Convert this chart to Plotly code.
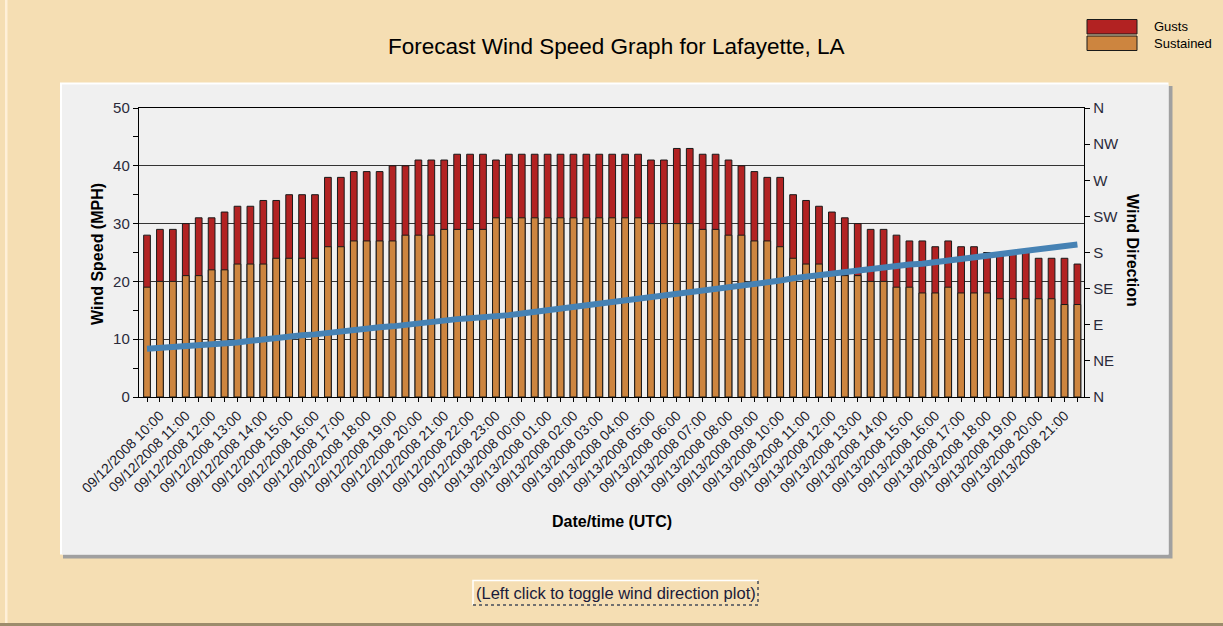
import plotly.graph_objects as go

# ---------------- data ----------------
time_labels = [
    "09/12/2008 10:00", "09/12/2008 11:00", "09/12/2008 12:00", "09/12/2008 13:00",
    "09/12/2008 14:00", "09/12/2008 15:00", "09/12/2008 16:00", "09/12/2008 17:00",
    "09/12/2008 18:00", "09/12/2008 19:00", "09/12/2008 20:00", "09/12/2008 21:00",
    "09/12/2008 22:00", "09/12/2008 23:00", "09/13/2008 00:00", "09/13/2008 01:00",
    "09/13/2008 02:00", "09/13/2008 03:00", "09/13/2008 04:00", "09/13/2008 05:00",
    "09/13/2008 06:00", "09/13/2008 07:00", "09/13/2008 08:00", "09/13/2008 09:00",
    "09/13/2008 10:00", "09/13/2008 11:00", "09/13/2008 12:00", "09/13/2008 13:00",
    "09/13/2008 14:00", "09/13/2008 15:00", "09/13/2008 16:00", "09/13/2008 17:00",
    "09/13/2008 18:00", "09/13/2008 19:00", "09/13/2008 20:00", "09/13/2008 21:00",
]

gusts = [
    28, 29, 29, 30, 31, 31, 32, 33, 33, 34,
    34, 35, 35, 35, 38, 38, 39, 39, 39, 40,
    40, 41, 41, 41, 42, 42, 42, 41, 42, 42,
    42, 42, 42, 42, 42, 42, 42, 42, 42, 41,
    41, 43, 43, 42, 42, 41, 40, 39, 38, 38,
    35, 34, 33, 32, 31, 30, 29, 29, 28, 27,
    27, 26, 27, 26, 26, 25, 25, 25, 25, 24,
    24, 24, 23,
]

sustained = [
    19, 20, 20, 21, 21, 22, 22, 23, 23, 23,
    24, 24, 24, 24, 26, 26, 27, 27, 27, 27,
    28, 28, 28, 29, 29, 29, 29, 31, 31, 31,
    31, 31, 31, 31, 31, 31, 31, 31, 31, 30,
    30, 30, 30, 29, 29, 28, 28, 27, 27, 26,
    24, 23, 23, 21, 21, 21, 20, 20, 19, 19,
    18, 18, 19, 18, 18, 18, 17, 17, 17, 17,
    17, 16, 16,
]

direction_deg = [
    60, 61, 62, 63, 64, 65, 67, 68, 70, 72,
    73, 75, 77, 78, 80, 82, 84, 85, 87, 88,
    90, 92, 94, 95, 97, 98, 99, 101, 102, 104,
    106, 108, 110, 112, 114, 116, 118, 120, 122, 124,
    126, 128, 130, 132, 134, 136, 138, 140, 143, 145,
    148, 150, 152, 154, 156, 158, 160, 161, 163, 165,
    166, 168, 170, 172, 173, 175, 177, 179, 181, 183,
    185, 187, 190,
]

dir_tick_vals = [0, 45, 90, 135, 180, 225, 270, 315, 360]
dir_tick_text = ["N", "NE", "E", "SE", "S", "SW", "W", "NW", "N"]

# ---------------- layout geometry ----------------
W, H = 1223, 626
ML, MR, MT, MB = 139, 139, 108, 229
PW, PH = W - ML - MR, H - MT - MB


def px(x):
    return (x - ML) / PW


def py(y):
    return 1 - (y - MT) / PH


FONT = "Arial, Liberation Sans, sans-serif"
n = len(gusts)
xs = list(range(n))

tick_vals = xs
tick_text = []
for i in xs:
    if i % 2 == 1 and i // 2 < len(time_labels):
        tick_text.append(time_labels[i // 2])
    else:
        tick_text.append("")

fig = go.Figure()
fig.add_trace(go.Bar(
    x=xs, y=gusts, name="Gusts", width=0.52,
    marker=dict(color="#B22222", line=dict(color="#1a1a1a", width=1)),
))
fig.add_trace(go.Bar(
    x=xs, y=sustained, name="Sustained", width=0.52,
    marker=dict(color="#CD853F", line=dict(color="#1a1a1a", width=1)),
))
fig.add_trace(go.Scatter(
    x=xs, y=direction_deg, yaxis="y2", mode="lines", name="Direction",
    line=dict(color="#4682B4", width=6),
))

shapes = []
# outer decorations
shapes.append(dict(type="rect", xref="paper", yref="paper",
                   x0=px(0), x1=px(W), y0=py(623), y1=py(626),
                   fillcolor="#9C8C6C", line=dict(width=0), layer="below"))
shapes.append(dict(type="rect", xref="paper", yref="paper",
                   x0=px(5), x1=px(7.5), y0=py(0), y1=py(623),
                   fillcolor="#FFF0D8", line=dict(width=0), layer="below"))
# panel shadow
shapes.append(dict(type="rect", xref="paper", yref="paper",
                   x0=px(63), x1=px(1172.5), y0=py(86), y1=py(558.5),
                   fillcolor="#A0A0A0", line=dict(width=0), layer="below"))
# panel highlight + panel
shapes.append(dict(type="rect", xref="paper", yref="paper",
                   x0=px(60), x1=px(1168.5), y0=py(82.5), y1=py(554.5),
                   fillcolor="#FFFFFF", line=dict(width=0), layer="below"))
shapes.append(dict(type="rect", xref="paper", yref="paper",
                   x0=px(62), x1=px(1168.5), y0=py(84.5), y1=py(554.5),
                   fillcolor="#F0F0F0", line=dict(width=0), layer="below"))
# legend swatches
shapes.append(dict(type="rect", xref="paper", yref="paper",
                   x0=px(1087), x1=px(1137), y0=py(19.5), y1=py(34),
                   fillcolor="#B22222", line=dict(color="#1a1a1a", width=1)))
shapes.append(dict(type="rect", xref="paper", yref="paper",
                   x0=px(1087), x1=px(1137), y0=py(36), y1=py(50.5),
                   fillcolor="#CD853F", line=dict(color="#1a1a1a", width=1)))
# toggle button
shapes.append(dict(type="rect", xref="paper", yref="paper",
                   x0=px(473), x1=px(758), y0=py(580.5), y1=py(605),
                   fillcolor="#F5DEB3", line=dict(width=0)))
shapes.append(dict(type="path", xref="paper", yref="paper",
                   path=f"M {px(473)} {py(605)} L {px(473)} {py(580.5)} L {px(758)} {py(580.5)}",
                   line=dict(color="#FFFFFF", width=1.5)))
shapes.append(dict(type="path", xref="paper", yref="paper",
                   path=f"M {px(473)} {py(605)} L {px(758)} {py(605)} L {px(758)} {py(580.5)}",
                   line=dict(color="#707070", width=2, dash="dot")))

annotations = [
    dict(text="Forecast Wind Speed Graph for Lafayette, LA", xref="paper", yref="paper",
         x=px(616), y=py(46), xanchor="center", yanchor="middle", showarrow=False,
         font=dict(family=FONT, size=22.5, color="#000000")),
    dict(text="Gusts", xref="paper", yref="paper", x=px(1152), y=py(27),
         xanchor="left", yanchor="middle", showarrow=False,
         font=dict(family=FONT, size=13, color="#000000")),
    dict(text="Sustained", xref="paper", yref="paper", x=px(1152), y=py(43.5),
         xanchor="left", yanchor="middle", showarrow=False,
         font=dict(family=FONT, size=13, color="#000000")),
    dict(text="<b>Wind Speed (MPH)</b>", xref="paper", yref="paper", x=px(97), y=py(254),
         xanchor="center", yanchor="middle", textangle=-90, showarrow=False,
         font=dict(family=FONT, size=16, color="#000000")),
    dict(text="<b>Wind Direction</b>", xref="paper", yref="paper", x=px(1133), y=py(250),
         xanchor="center", yanchor="middle", textangle=90, showarrow=False,
         font=dict(family=FONT, size=16, color="#000000")),
    dict(text="<b>Date/time (UTC)</b>", xref="paper", yref="paper", x=px(612), y=py(521),
         xanchor="center", yanchor="middle", showarrow=False,
         font=dict(family=FONT, size=16, color="#000000")),
    dict(text="(Left click to toggle wind direction plot)", xref="paper", yref="paper",
         x=px(615.5), y=py(593), xanchor="center", yanchor="middle", showarrow=False,
         font=dict(family=FONT, size=16.5, color="#1a1a3a")),
]

fig.update_layout(
    width=W, height=H,
    margin=dict(l=ML, r=MR, t=MT, b=MB, pad=0),
    paper_bgcolor="#F5DEB3",
    plot_bgcolor="#FFFFF0",
    barmode="overlay",
    showlegend=False,
    bargap=0,
    hovermode=False,
    font=dict(family=FONT, size=12, color="#222222"),
    xaxis=dict(
        range=[-0.62, n - 0.49],
        tickmode="array", tickvals=tick_vals, ticktext=tick_text,
        tickangle=-45, ticks="outside", ticklen=4, tickcolor="#000000",
        tickfont=dict(family=FONT, size=14, color="#1a1a2a"),
        showline=True, linecolor="#000000", linewidth=1, mirror=True,
        showgrid=False, zeroline=False, fixedrange=True,
    ),
    yaxis=dict(
        range=[0, 50], dtick=10, tick0=0,
        ticks="outside", ticklen=5, tickcolor="#000000",
        tickfont=dict(family=FONT, size=15, color="#2a2a3a"),
        minor=dict(dtick=5, ticks="outside", ticklen=5, tickcolor="#000000", showgrid=False),
        showline=True, linecolor="#000000", linewidth=1.2, mirror=False,
        showgrid=True, gridcolor="#333333", gridwidth=1,
        zeroline=False, fixedrange=True,
    ),
    yaxis2=dict(
        overlaying="y", side="right", range=[0, 360],
        tickmode="array", tickvals=dir_tick_vals, ticktext=dir_tick_text,
        ticks="outside", ticklen=5, tickcolor="#000000",
        tickfont=dict(family=FONT, size=15, color="#2a2a3a"),
        showline=True, linecolor="#000000", linewidth=1.2,
        showgrid=False, zeroline=False, fixedrange=True,
    ),
    shapes=shapes,
    annotations=annotations,
)

fig.write_html(
    "out.html",
    config={"displayModeBar": False, "staticPlot": True},
    post_script="document.body.style.margin='0';document.body.style.padding='0';",
)
